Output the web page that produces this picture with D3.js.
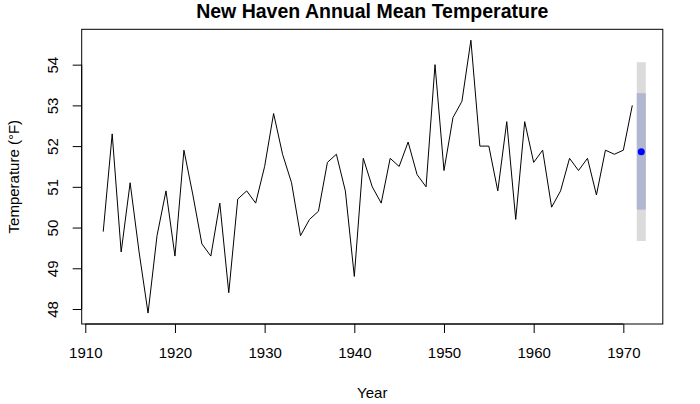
<!DOCTYPE html>
<html><head><meta charset="utf-8">
<script src="https://cdn.jsdelivr.net/npm/d3@7"></script>
<style>body{margin:0;background:#fff}svg{display:block;font-family:"Liberation Sans",Arial,sans-serif}</style>
</head><body><svg id="c" width="700" height="404"></svg>
<script>
const years = d3.range(1912, 1972);
const temps = [49.9,52.3,49.4,51.1,49.4,47.9,49.8,50.9,49.3,51.9,50.8,49.6,49.3,50.6,48.4,50.7,50.9,50.6,51.5,52.8,51.8,51.1,49.8,50.2,50.4,51.6,51.8,50.9,48.8,51.7,51.0,50.6,51.7,51.5,52.1,51.3,51.0,54.0,51.4,52.7,53.1,54.6,52.0,52.0,50.9,52.6,50.2,52.6,51.6,51.9,50.5,50.9,51.7,51.4,51.7,50.8,51.9,51.8,51.9,53.0];
const fcYear = [1972];
const fcMean = [51.86];
const lo80 = [50.44], hi80 = [53.30];
const lo95 = [49.67], hi95 = [54.06];
const xTicks = [1910,1920,1930,1940,1950,1960,1970];
const yTicks = [48,49,50,51,52,53,54];

const svg = d3.select("#c");
const L = 81.7, R = 662.8, T = 29.3, B = 324;
const x = d3.scaleLinear().domain([1909.6, 1974.4]).range([L, R]);
const y = d3.scaleLinear().domain([47.632, 54.868]).range([B, T]);

// intervals
const bw = 9;
svg.selectAll(".b95").data(fcYear).enter().append("rect")
  .attr("x", d => x(d) - bw/2).attr("width", bw)
  .attr("y", (d,i) => y(hi95[i])).attr("height", (d,i) => y(lo95[i]) - y(hi95[i]))
  .attr("fill", "#DBDBDB");
svg.selectAll(".b80").data(fcYear).enter().append("rect")
  .attr("x", d => x(d) - bw/2).attr("width", bw)
  .attr("y", (d,i) => y(hi80[i])).attr("height", (d,i) => y(lo80[i]) - y(hi80[i]))
  .attr("fill", "#B1B7D1");

// series line
svg.append("path").datum(temps)
  .attr("d", d3.line().x((d,i) => x(years[i])).y(d => y(d)))
  .attr("fill", "none").attr("stroke", "#000").attr("stroke-width", 1);

svg.selectAll(".pt").data(fcYear).enter().append("circle")
  .attr("cx", d => x(d)).attr("cy", (d,i) => y(fcMean[i])).attr("r", 3.5)
  .attr("fill", "#0000FF");

// box
svg.append("rect").attr("x", L).attr("y", T).attr("width", R - L).attr("height", B - T)
  .attr("fill", "none").attr("stroke", "#000").attr("stroke-width", 1);

// axes
const xa = svg.append("g").attr("transform", `translate(0,${B})`)
  .call(d3.axisBottom(x).tickValues(xTicks).tickFormat(d3.format("d")).tickSize(9).tickPadding(14));
xa.select(".domain").attr("d", `M${x(1910)},0H${x(1970)}`);
xa.selectAll("text").attr("font-size", 15).attr("fill", "#000").attr("font-family", "Liberation Sans, Arial, sans-serif");

const ya = svg.append("g").attr("transform", `translate(${L},0)`)
  .call(d3.axisLeft(y).tickValues(yTicks).tickFormat(d3.format("d")).tickSize(9));
ya.select(".domain").attr("d", `M0,${y(48)}V${y(54)}`);
ya.selectAll(".tick text").attr("x", null).attr("dy", null)
  .attr("text-anchor", "middle").attr("transform", "translate(-29,0) rotate(-90)")
  .attr("dominant-baseline", "central")
  .attr("font-size", 15).attr("fill", "#000").attr("font-family", "Liberation Sans, Arial, sans-serif");

// titles
svg.append("text").attr("x", (L + R) / 2).attr("y", 18).attr("text-anchor", "middle")
  .attr("font-size", 19.5).attr("font-weight", "bold").text("New Haven Annual Mean Temperature");
svg.append("text").attr("x", (L + R) / 2).attr("y", 398).attr("text-anchor", "middle")
  .attr("font-size", 15).text("Year");
svg.append("text").attr("transform", `translate(19,${(T + B) / 2}) rotate(-90)`).attr("text-anchor", "middle")
  .attr("font-size", 15).text("Temperature (°F)");
</script></body></html>
